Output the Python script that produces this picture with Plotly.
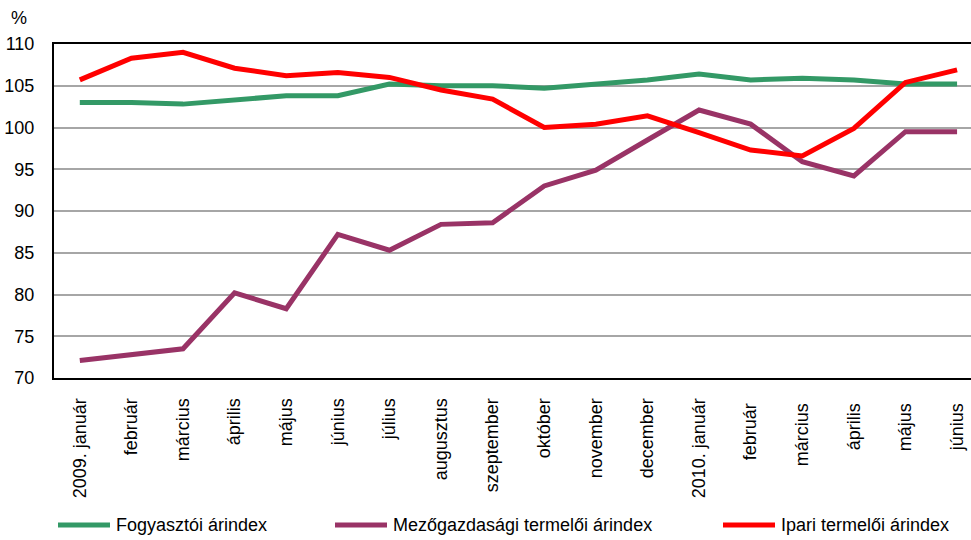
import plotly.graph_objects as go

months = ["2009. január", "február", "március", "április", "május", "június", "július",
          "augusztus", "szeptember", "október", "november", "december",
          "2010. január", "február ", "március ", "április ", "május ", "június "]

fogyasztoi = [103.0, 103.0, 102.8, 103.3, 103.8, 103.8, 105.2, 105.0, 105.0, 104.7,
              105.2, 105.7, 106.4, 105.7, 105.9, 105.7, 105.2, 105.2]
mezogazdasagi = [72.1, 72.8, 73.5, 80.2, 78.3, 87.2, 85.3, 88.4, 88.6, 93.0,
                 94.9, 98.5, 102.1, 100.4, 95.9, 94.2, 99.5, 99.5]
ipari = [105.7, 108.3, 109.0, 107.1, 106.2, 106.6, 106.0, 104.5, 103.4, 100.0,
         100.4, 101.4, 99.4, 97.3, 96.6, 99.9, 105.4, 106.9]

series_names = ["Fogyasztói árindex", "Mezőgazdasági termelői árindex", "Ipari termelői árindex"]
series_values = [fogyasztoi, mezogazdasagi, ipari]
colors = ["#339966", "#993366", "#FF0000"]

y_ticks = [70, 75, 80, 85, 90, 95, 100, 105, 110]

FONT = "Liberation Sans, Arial, sans-serif"

fig = go.Figure()
x_idx = list(range(len(months)))
for name, vals, col in zip(series_names, series_values, colors):
    fig.add_trace(go.Scatter(x=x_idx, y=vals, mode="lines", name=name,
                             line=dict(color=col, width=5), showlegend=False))

W, H = 971, 540
ml, mr, mt, mb = 54, 0, 44, 162
pw = W - ml - mr
ph = H - mt - mb

fig.update_layout(
    width=W, height=H,
    margin=dict(l=ml, r=mr, t=mt, b=mb),
    paper_bgcolor="white", plot_bgcolor="white",
    font=dict(family=FONT, size=18, color="black"),
    xaxis=dict(
        tickmode="array", tickvals=x_idx, ticktext=months,
        tickangle=-90, range=[-0.5, 17.27],
        showgrid=False, showline=True, linecolor="black", linewidth=2,
        mirror=True, ticks="", ticklabelstandoff=11,
        tickfont=dict(size=18, family=FONT),
        zeroline=False,
    ),
    yaxis=dict(
        range=[70, 110], tickmode="array", tickvals=y_ticks,
        showgrid=True, gridcolor="#A6A6A6", gridwidth=1.5,
        showline=True, linecolor="black", linewidth=2, mirror=False,
        ticks="", ticklabelstandoff=14,
        tickfont=dict(size=18, family=FONT),
        zeroline=False,
    ),
)

# "%" unit label
fig.add_annotation(text="%", xref="paper", yref="paper",
                   x=(19 - ml) / pw, y=(H - mb - 18) / ph,
                   showarrow=False, xanchor="center", yanchor="middle",
                   font=dict(size=18, family=FONT))

# Manual legend
legend_y_px = 525
ly = (H - mb - legend_y_px) / ph
starts = [58, 335, 723]
for name, col, sx in zip(series_names, colors, starts):
    fig.add_shape(type="line", xref="paper", yref="paper",
                  x0=(sx - ml) / pw, x1=(sx + 52 - ml) / pw, y0=ly, y1=ly,
                  line=dict(color=col, width=5))
    fig.add_annotation(text=name, xref="paper", yref="paper",
                       x=(sx + 56 - ml) / pw, y=ly, showarrow=False,
                       xanchor="left", yanchor="middle",
                       font=dict(size=18, family=FONT))

fig.write_html("out.html",
               config={"displayModeBar": False},
               post_script="document.body.style.margin='0';document.body.style.overflow='hidden';")
